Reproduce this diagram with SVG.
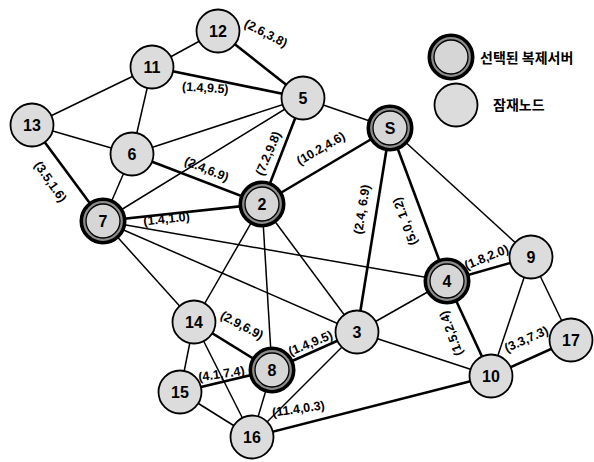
<svg xmlns="http://www.w3.org/2000/svg" width="594" height="462" viewBox="0 0 594 462">
  <style>
    .e { stroke: #000; stroke-width: 1.5; fill: none; }
    .t { stroke: #000; stroke-width: 2.6; fill: none; }
    .n { fill: #dcdcdc; stroke: #000; stroke-width: 1.8; }
    .ro { fill: #8c8c8c; stroke: #000; stroke-width: 3.6; }
    .ri { fill: #d6d6d6; stroke: #000; stroke-width: 1.3; }
    .id { font-family: "Liberation Sans", Arial, sans-serif; font-weight: bold; font-size: 16px; text-anchor: middle; fill: #000; }
    .lb { font-family: "Liberation Sans", Arial, sans-serif; font-weight: bold; font-size: 12.5px; text-anchor: middle; fill: #000; }
    .lg { font-family: "Noto Sans CJK KR", "Noto Sans", sans-serif; font-weight: bold; font-size: 14px; fill: #000; }
  </style>
  <defs>
    <g id="plain"><circle class="n" r="21.5"/></g>
    <g id="chosen"><circle class="ro" r="21.7"/><circle class="ri" r="17"/></g>
  </defs>
  <rect width="594" height="462" fill="#fff"/>

  <!-- links between nodes -->
  <g id="connectors">
    <line class="e" x1="218" y1="31" x2="152" y2="67"/>
    <line class="t" x1="218" y1="31" x2="303" y2="98"/>
    <line class="t" x1="152" y1="67" x2="303" y2="98"/>
    <line class="e" x1="152" y1="67" x2="32" y2="125"/>
    <line class="e" x1="152" y1="67" x2="132" y2="154"/>
    <line class="e" x1="32" y1="125" x2="132" y2="154"/>
    <line class="t" x1="32" y1="125" x2="103" y2="221"/>
    <line class="e" x1="132" y1="154" x2="103" y2="221"/>
    <line class="e" x1="132" y1="154" x2="303" y2="98"/>
    <line class="e" x1="103" y1="221" x2="303" y2="98"/>
    <line class="t" x1="132" y1="154" x2="262" y2="204"/>
    <line class="t" x1="303" y1="98" x2="262" y2="204"/>
    <line class="e" x1="303" y1="98" x2="390" y2="128"/>
    <line class="t" x1="390" y1="128" x2="262" y2="204"/>
    <line class="t" x1="390" y1="128" x2="357" y2="332"/>
    <line class="t" x1="390" y1="128" x2="447" y2="281"/>
    <line class="e" x1="390" y1="128" x2="531" y2="257"/>
    <line class="t" x1="103" y1="221" x2="262" y2="204"/>
    <line class="e" x1="103" y1="221" x2="447" y2="281"/>
    <line class="e" x1="103" y1="221" x2="357" y2="332"/>
    <line class="e" x1="103" y1="221" x2="194" y2="322"/>
    <line class="e" x1="262" y1="204" x2="194" y2="322"/>
    <line class="e" x1="262" y1="204" x2="272" y2="370"/>
    <line class="e" x1="262" y1="204" x2="357" y2="332"/>
    <line class="e" x1="447" y1="281" x2="357" y2="332"/>
    <line class="t" x1="447" y1="281" x2="531" y2="257"/>
    <line class="t" x1="447" y1="281" x2="491" y2="376"/>
    <line class="e" x1="531" y1="257" x2="491" y2="376"/>
    <line class="e" x1="531" y1="257" x2="571" y2="340"/>
    <line class="t" x1="491" y1="376" x2="571" y2="340"/>
    <line class="e" x1="357" y1="332" x2="491" y2="376"/>
    <line class="t" x1="272" y1="370" x2="357" y2="332"/>
    <line class="e" x1="357" y1="332" x2="252" y2="437"/>
    <line class="t" x1="194" y1="322" x2="272" y2="370"/>
    <line class="e" x1="194" y1="322" x2="180" y2="392"/>
    <line class="e" x1="194" y1="322" x2="252" y2="437"/>
    <line class="t" x1="180" y1="392" x2="272" y2="370"/>
    <line class="e" x1="180" y1="392" x2="252" y2="437"/>
    <line class="e" x1="272" y1="370" x2="252" y2="437"/>
    <line class="t" x1="252" y1="437" x2="491" y2="376"/>
  </g>

  <!-- link labels -->
  <g id="link-labels">
    <text class="lb" transform="translate(264,37) rotate(27)">(2.6,3.8)</text>
    <text class="lb" transform="translate(205,92) rotate(4)">(1.4,9.5)</text>
    <text class="lb" transform="translate(205,173) rotate(22)">(2.4,6.9)</text>
    <text class="lb" transform="translate(272,155) rotate(-67)">(7.2,9.8)</text>
    <text class="lb" transform="translate(323,152) rotate(-30)">(10.2,4.6)</text>
    <text class="lb" transform="translate(366,210) rotate(-81)">(2.4, 6.9)</text>
    <text class="lb" transform="translate(409,220) rotate(-110)">(5.0, 1.2)</text>
    <text class="lb" transform="translate(47,184) rotate(55)">(3.5,1.6)</text>
    <text class="lb" transform="translate(167,223) rotate(-6)">(1.4,1.0)</text>
    <text class="lb" transform="translate(488,261) rotate(-22)">(1.8,2.0)</text>
    <text class="lb" transform="translate(455,332) rotate(-110)">(1.5,2.4)</text>
    <text class="lb" transform="translate(528,343) rotate(-24)">(3.3,7.3)</text>
    <text class="lb" transform="translate(240,329) rotate(28)">(2.9,6.9)</text>
    <text class="lb" transform="translate(312,347) rotate(-22)">(1.4,9.5)</text>
    <text class="lb" transform="translate(222,378) rotate(-8)">(4.1,7.4)</text>
    <text class="lb" transform="translate(299,413) rotate(-8)">(11.4,0.3)</text>
  </g>

  <!-- nodes -->
  <g id="node-12"><use href="#plain" x="218" y="31"/><text class="id" x="218" y="37">12</text></g>
  <g id="node-11"><use href="#plain" x="152" y="67"/><text class="id" x="152" y="73">11</text></g>
  <g id="node-13"><use href="#plain" x="32" y="125"/><text class="id" x="32" y="131">13</text></g>
  <g id="node-6"><use href="#plain" x="132" y="154"/><text class="id" x="132" y="160">6</text></g>
  <g id="node-5"><use href="#plain" x="303" y="98"/><text class="id" x="303" y="104">5</text></g>
  <g id="node-S"><use href="#chosen" x="390" y="128"/><text class="id" x="390" y="134">S</text></g>
  <g id="node-7"><use href="#chosen" x="103" y="221"/><text class="id" x="103" y="227">7</text></g>
  <g id="node-2"><use href="#chosen" x="262" y="204"/><text class="id" x="262" y="210">2</text></g>
  <g id="node-4"><use href="#chosen" x="447" y="281"/><text class="id" x="447" y="287">4</text></g>
  <g id="node-9"><use href="#plain" x="531" y="257"/><text class="id" x="531" y="263">9</text></g>
  <g id="node-14"><use href="#plain" x="194" y="322"/><text class="id" x="194" y="328">14</text></g>
  <g id="node-8"><use href="#chosen" x="272" y="370"/><text class="id" x="272" y="376">8</text></g>
  <g id="node-15"><use href="#plain" x="180" y="392"/><text class="id" x="180" y="398">15</text></g>
  <g id="node-16"><use href="#plain" x="252" y="437"/><text class="id" x="252" y="443">16</text></g>
  <g id="node-3"><use href="#plain" x="357" y="332"/><text class="id" x="357" y="338">3</text></g>
  <g id="node-10"><use href="#plain" x="491" y="376"/><text class="id" x="491" y="382">10</text></g>
  <g id="node-17"><use href="#plain" x="571" y="340"/><text class="id" x="571" y="346">17</text></g>

  <!-- legend -->
  <g id="legend">
    <use href="#chosen" x="451" y="57"/>
    <text class="lg" x="480" y="63">선택된 복제서버</text>
    <use href="#plain" x="456" y="105"/>
    <text class="lg" x="493" y="110">잠재노드</text>
  </g>
</svg>
